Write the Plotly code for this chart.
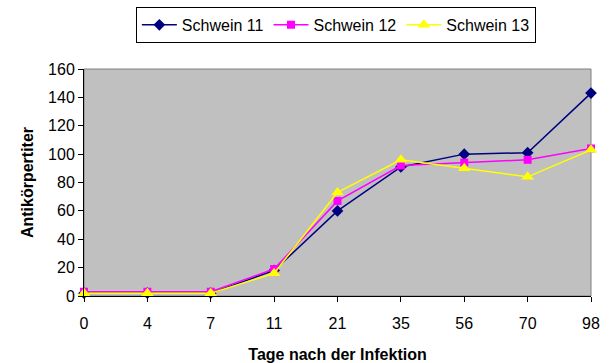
import plotly.graph_objects as go

days = ["0", "4", "7", "11", "21", "35", "56", "70", "98"]
schwein_11 = [2, 2, 2, 18, 60, 91, 100, 101, 143]
schwein_12 = [3, 3, 3, 19, 67, 92, 94, 96, 104]
schwein_13 = [2, 2, 2, 16, 73, 96, 90, 84, 103]

FONT = "Liberation Sans, Arial, sans-serif"
xpos = list(range(len(days)))

series = [
    ("Schwein 11", schwein_11, "#000080", "diamond", 9),
    ("Schwein 12", schwein_12, "#FF00FF", "square", 8),
    ("Schwein 13", schwein_13, "#FFFF00", "triangle-up", 11),
]

fig = go.Figure()
for name, vals, color, sym, size in series:
    fig.add_trace(go.Scatter(
        x=xpos, y=vals, name=name, mode="lines+markers",
        line=dict(color=color, width=1.5),
        marker=dict(color=color, symbol=sym, size=size, line=dict(width=0)),
        cliponaxis=False,
    ))

# plot-area frame (grey) behind the black axis lines
fig.add_shape(type="rect", xref="paper", yref="paper", x0=0, y0=0, x1=1, y1=1,
              line=dict(color="#808080", width=1), layer="below")

fig.update_layout(
    width=614, height=363,
    margin=dict(l=84, r=23, t=69, b=67, autoexpand=False),
    paper_bgcolor="white", plot_bgcolor="#C0C0C0",
    font=dict(family=FONT, size=16, color="black"),
    showlegend=True,
    legend=dict(
        orientation="h", xref="container", yref="container",
        x=0.547, xanchor="center", y=0.981, yanchor="top",
        bordercolor="black", borderwidth=1, bgcolor="white",
        font=dict(size=16), itemwidth=35, tracegroupgap=0,
    ),
    xaxis=dict(
        range=[0, 8], tickmode="array", tickvals=xpos, ticktext=days,
        showgrid=False, zeroline=False, showline=True, linecolor="black", linewidth=1,
        ticks="outside", ticklen=5, tickcolor="black", ticklabelstandoff=8,
        automargin=False,
        title=dict(text="<b>Tage nach der Infektion</b>", standoff=18, font=dict(size=16)),
    ),
    yaxis=dict(
        range=[0, 160], tickvals=list(range(0, 161, 20)),
        showgrid=False, zeroline=False, showline=True, linecolor="black", linewidth=1,
        ticks="outside", ticklen=5, tickcolor="black",
        automargin=False,
        title=dict(text="<b>Antikörpertiter</b>", standoff=10, font=dict(size=16)),
    ),
)

fig.write_html("out.html")
